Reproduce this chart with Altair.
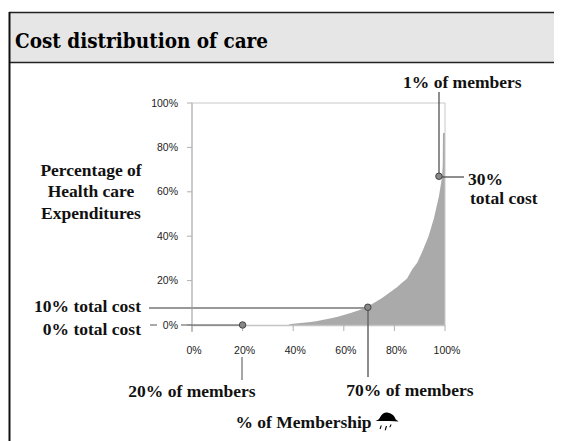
import altair as alt
import pandas as pd

# Lorenz-like cost curve: % of members, % of cost
member_pct = [0, 38, 39, 42, 45, 47, 49, 52, 55, 58, 60, 63, 66, 69, 72, 75, 78, 81, 83, 85, 87, 89, 91, 93.5, 95.6, 97.6, 98.6, 98.9, 99.1, 99.2, 100]
cost_pct = [0, 0, 0.4, 0.8, 1.1, 1.4, 1.7, 2.4, 3.0, 3.8, 4.5, 5.5, 6.6, 8.0, 10, 12, 14.5, 17, 19, 21, 25, 28, 33, 40, 48, 58, 65, 68, 72, 86.5, 86.5]

y_ticks = [0, 20, 40, 60, 80, 100]
x_ticks = [0, 20, 40, 60, 80, 100]
dot_x = [20, 69.5, 97.6]
dot_y = [0, 8, 67]

W, H = 253, 222
PX, PY = 184, 95  # plot origin within the canvas

def sx(p):
    return (p - 192) / W * 100

def sy(p):
    return (325 - p) / H * 100

xs = alt.Scale(domain=[0, 100], nice=False, zero=False, clamp=False)
ys = alt.Scale(domain=[0, 100], nice=False, zero=False, clamp=False)
X = lambda f: alt.X(f, type="quantitative", scale=xs, axis=None)
Y = lambda f: alt.Y(f, type="quantitative", scale=ys, axis=None)

SERIF = "Liberation Serif"
SANS = "Liberation Sans"


def box(x0, x1, y0, y1, **kw):
    df = pd.DataFrame({"a": [sx(x0)], "b": [sx(x1)], "c": [sy(y0)], "d": [sy(y1)]})
    return alt.Chart(df).mark_rect(clip=False, **kw).encode(X("a"), x2="b", y=Y("c"), y2="d")


def seg(x0, y0, x1, y1, color, width=1.0):
    df = pd.DataFrame({"a": [sx(x0)], "b": [sx(x1)], "c": [sy(y0)], "d": [sy(y1)]})
    return alt.Chart(df).mark_rule(color=color, strokeWidth=width, clip=False).encode(X("a"), x2="b", y=Y("c"), y2="d")


def label(txt, x, y, size=17.5, font=SERIF, weight="bold", align="left", color="#111111"):
    df = pd.DataFrame({"a": [sx(x)], "c": [sy(y)], "t": [txt]})
    return alt.Chart(df).mark_text(font=font, fontSize=size, fontWeight=weight, align=align, baseline="alphabetic", color=color, clip=False).encode(X("a"), Y("c"), text="t:N")


layers = []
# panel frame and header
layers.append(box(9, 562, 12, 62, fill="#e6e6e6"))
layers.append(seg(9, 12.5, 562, 12.5, "#222222", 1.5))
layers.append(seg(9, 62.5, 562, 62.5, "#222222", 1.5))
layers.append(seg(9.5, 12, 9.5, 441, "#111111", 2))
layers.append(label("Cost distribution of care", 15, 47.5, size=20.5, font="DejaVu Serif Condensed", color="#000000"))

# curve
curve = pd.DataFrame({"m": member_pct, "c": cost_pct})
layers.append(alt.Chart(curve).mark_area(color="#aaaaaa", interpolate="linear", clip=True).encode(X("m"), Y("c")))

# plot outline
layers.append(seg(192, 103, 445, 103, "#c8c8c8", 1))
layers.append(seg(445, 103, 445, 325, "#c8c8c8", 1))
layers.append(seg(192, 103, 192, 332, "#b8b8b8", 1.5))
layers.append(seg(192, 325.5, 445, 325.5, "#c4c4c4", 1.5))

# ticks and tick labels
for v in y_ticks:
    py = 325 - v * H / 100
    layers.append(seg(187, py, 192, py, "#b0b0b0", 1))
    layers.append(label(f"{v}%", 178, py + 3.5, size=10.5, font=SANS, weight="normal", align="right", color="#222222"))
for v in x_ticks:
    px = 192 + v * W / 100
    layers.append(seg(px, 325, px, 331, "#b0b0b0", 1))
    layers.append(label(f"{v}%", px + 2, 354, size=10.5, font=SANS, weight="normal", align="center", color="#222222"))

# callout lines
layers.append(seg(149, 308, 368, 308, "#999999", 2))
layers.append(seg(150, 325, 157, 325, "#555555", 1))
layers.append(seg(181, 325, 242, 325, "#555555", 1.2))
layers.append(seg(242, 357, 242, 380, "#888888", 1.5))
layers.append(seg(368, 308, 368, 377, "#666666", 1.5))
layers.append(seg(439, 92, 439, 177, "#444444", 1.2))
layers.append(seg(439, 177, 464, 177, "#444444", 1.2))

# dots
dots = pd.DataFrame({"m": dot_x, "c": dot_y})
layers.append(alt.Chart(dots).mark_point(filled=True, fill="#888888", stroke="#444444", strokeWidth=1, size=42, opacity=1, clip=False).encode(X("m"), Y("c")))

# annotations
layers.append(label("1% of members", 403, 88))
layers.append(label("30%", 468, 185))
layers.append(label("total cost", 470, 204))
layers.append(label("Percentage of", 91, 175.5, align="center"))
layers.append(label("Health care", 91, 197, align="center"))
layers.append(label("Expenditures", 91, 218.5, align="center"))
layers.append(label("10% total cost", 141, 312, align="right"))
layers.append(label("0% total cost", 141, 335, align="right"))
layers.append(label("20% of members", 192, 396.5, align="center"))
layers.append(label("70% of members", 410, 396, align="center"))
layers.append(label("% of Membership", 303.5, 428, align="center"))

# rain cloud glyph
cloud = pd.DataFrame({"a": [sx(387)], "c": [sy(421.5)]})
cloud_path = ("M-1,-0.05 C-0.8,-0.1 -0.65,-0.2 -0.55,-0.45 C-0.4,-0.75 -0.1,-0.85 0.15,-0.75 C0.5,-0.7 0.7,-0.4 0.75,-0.2 "
              "C0.85,-0.1 0.95,-0.05 1,0 L0.2,-0.05 L-1,-0.05 Z "
              "M-0.55,0.35 L-0.45,0.35 L-0.55,0.65 L-0.65,0.65 Z "
              "M-0.1,0.4 L0,0.4 L-0.1,0.75 L-0.2,0.75 Z "
              "M0.3,0.25 L0.4,0.25 L0.3,0.5 L0.2,0.5 Z")
layers.append(alt.Chart(cloud).mark_point(filled=True, fill="#000000", opacity=1, strokeWidth=0, shape=cloud_path, size=529, clip=False).encode(X("a"), Y("c")))

chart = alt.layer(*layers).properties(
    width=W,
    height=H,
    autosize=alt.AutoSizeParams(type="none"),
    padding={"left": PX, "top": PY, "right": 562 - 16 - PX - W, "bottom": 441 - 8 - PY - H},
    background="#ffffff",
).configure_view(stroke=None)

chart.save("out.html", embed_options={"renderer": "svg", "actions": False})
